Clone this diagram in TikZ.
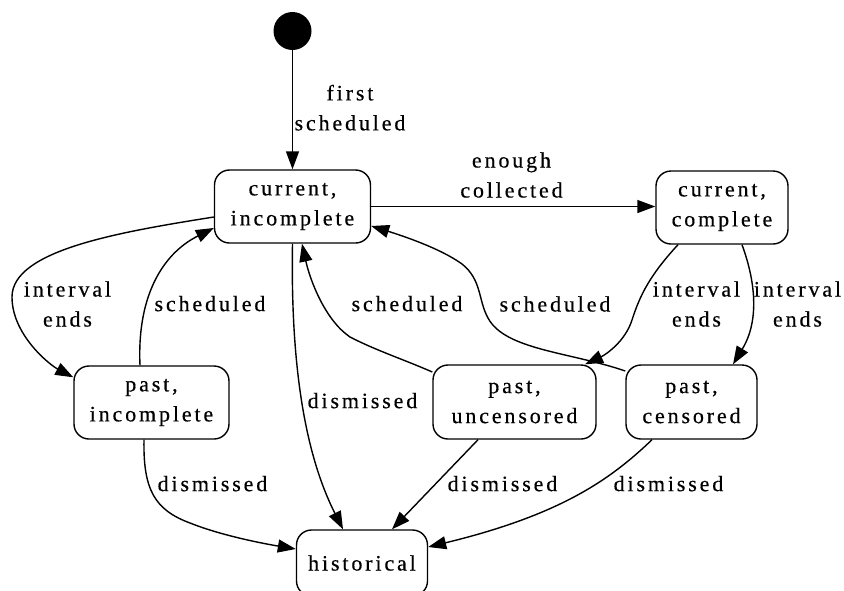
\documentclass[tikz,border=0pt]{standalone}
\usepackage{fontspec}
\setmainfont{Liberation Serif}[LetterSpace=13,FakeBold=0.4]
\usetikzlibrary{arrows.meta,calc}
\begin{document}
\begin{tikzpicture}[x=1pt,y=-1pt,
  txt/.style={font=\rmfamily\fontsize{22}{30}\selectfont},
  state/.style={txt,draw,line width=1.4pt,rounded corners=15pt,align=center,inner sep=0pt},
  lab/.style={txt,align=center,inner sep=0pt},
  edge/.style={line width=1.4pt,-{Triangle[length=18pt,width=13pt]}},
]
\useasboundingbox (0,0) rectangle (844,590);

% states
\node[circle,fill=black,minimum size=38pt,inner sep=0pt] (start) at (292.5,31) {};
\node[state,minimum width=156pt,minimum height=73pt] (ci) at (292.5,206.5) {current,\\incomplete};
\node[state,minimum width=132pt,minimum height=73pt] (cc) at (722,207.5) {current,\\complete};
\node[state,minimum width=155pt,minimum height=73pt] (pi) at (151.5,402.5) {past,\\incomplete};
\node[state,minimum width=163pt,minimum height=74pt] (pu) at (514.5,402) {past,\\uncensored};
\node[state,minimum width=131pt,minimum height=74pt] (pc) at (691.5,402) {past,\\censored};
\node[state,minimum width=131pt,minimum height=66pt] (hi) at (362,563) {historical};

% transitions
\draw[edge] (start) -- (ci);
\draw[edge] (ci.east) -- (ci.east -| cc.west);
\draw[edge] ($(ci.west)+(0,10.5)$) .. controls (120,232) and (12,250) .. (12,297)
  .. controls (12,335) and (50,365) .. ($(pi.north west)+(0,12)$);
\draw[edge] ($(pi.north)+(-11.5,0)$) .. controls (137,300) and (160,255) .. ($(ci.west)+(0,21.5)$);
\draw[edge] (ci.south) .. controls (290,390) and (312,468) .. ($(hi.north)+(-19,0)$);
\draw[edge] ($(pu.west)+(0,-30)$) .. controls (405,360) and (375,350) .. (350,337)
  .. controls (325,320) and (310,280) .. ($(ci.south)+(9.5,0)$);
\draw[edge] ($(pc.west)+(0,-31)$) .. controls (570,352) and (505,350) .. (488,318)
  .. controls (478,300) and (482,280) .. (462,264)
  .. controls (440,248) and (400,235) .. ($(ci.east)+(0,19.5)$);
\draw[edge] ($(cc.south)+(-44,0)$) .. controls (650,275) and (640,295) .. (632,320)
  .. controls (625,342) and (605,355) .. ($(pu.north)+(70.5,0)$);
\draw[edge] ($(cc.south)+(20,0)$) .. controls (755,280) and (760,320) .. ($(pc.north)+(41.5,0)$);
\draw[edge] ($(pi.south)+(-7.5,0)$) .. controls (143,490) and (155,510) .. (190,523)
  .. controls (220,535) and (260,543) .. ($(hi.west)+(0,-14)$);
\draw[edge] ($(pu.south)+(-36.5,0)$) -- ($(hi.north)+(30,0)$);
\draw[edge] ($(pc.south)+(-39.5,0)$) .. controls (610,480) and (560,515) .. ($(hi.east)+(0,-16)$);

% transition labels
\node[lab] (lfirst) at (350,107.7) {first\\scheduled};
\node[lab] (lenough) at (511.5,175) {enough\\collected};
\node[lab] (lint1) at (67.5,304) {interval\\ends};
\node[lab] (lsch1) at (210,303.6) {scheduled};
\node[lab] (lsch2) at (407,303.6) {scheduled};
\node[lab] (lsch3) at (555,304) {scheduled};
\node[lab] (lint2) at (696.5,304) {interval\\ends};
\node[lab] (lint3) at (797.5,304) {interval\\ends};
\node[lab] (ldis1) at (362.5,400.6) {dismissed};
\node[lab] (ldis2) at (212.5,483.6) {dismissed};
\node[lab] (ldis3) at (502.5,483.6) {dismissed};
\node[lab] (ldis4) at (668.5,483.6) {dismissed};
\end{tikzpicture}
\end{document}
